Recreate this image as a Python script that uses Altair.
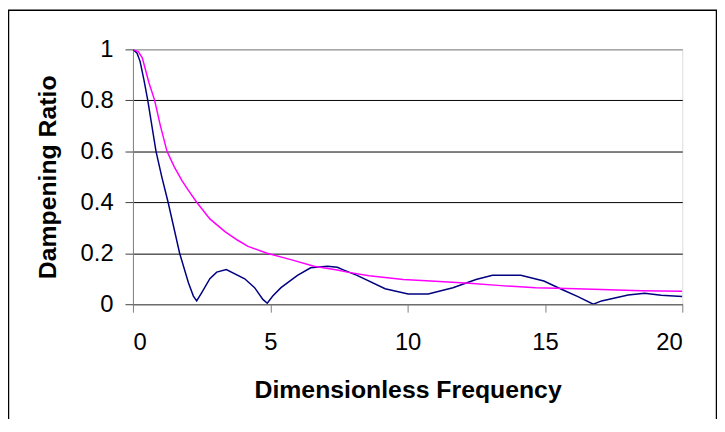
import altair as alt
import pandas as pd

# Navy series
navy_x = [0, 0.15, 0.26, 0.4, 0.54, 0.84, 1.05, 1.28, 1.70, 2.02, 2.2, 2.32, 2.5, 2.8, 3.05, 3.40,
          4.07, 4.43, 4.73, 4.89, 5.09, 5.39, 5.99, 6.47, 7.08, 7.44, 7.68, 8.16, 9.18, 10.02,
          10.75, 11.65, 12.49, 13.09, 14.12, 14.96, 15.62, 16.2, 16.76, 17.06, 18.03, 18.63,
          19.23, 20.0]
navy_y = [1.0, 0.985, 0.953, 0.88, 0.80, 0.60, 0.50, 0.40, 0.20, 0.084, 0.032, 0.013, 0.045, 0.10,
          0.126, 0.136, 0.10, 0.065, 0.019, 0.004, 0.032, 0.065, 0.113, 0.143, 0.149, 0.145,
          0.134, 0.113, 0.061, 0.040, 0.040, 0.065, 0.097, 0.114, 0.114, 0.091, 0.058, 0.03,
          0.0, 0.013, 0.036, 0.043, 0.035, 0.030]

# Magenta series
mag_x = [0, 0.2, 0.34, 0.58, 0.79, 1.0, 1.24, 1.5, 1.78, 2.0, 2.32, 2.8, 3.35, 3.8, 4.19, 4.88,
         5.75, 6.59, 7.44, 7.8, 8.6, 9.84, 11.0, 12.24, 13.4, 14.66, 15.8, 17.06, 18.5, 20.0]
mag_y = [1.0, 0.99, 0.967, 0.87, 0.80, 0.70, 0.60, 0.54, 0.486, 0.45, 0.40, 0.335, 0.285, 0.252,
         0.227, 0.20, 0.175, 0.149, 0.134, 0.126, 0.112, 0.097, 0.09, 0.082, 0.073, 0.065,
         0.062, 0.058, 0.053, 0.051]

series_names = ["A", "B"]
series_colors = ["#000080", "#FF00FF"]

x_ticks = [0, 5, 10, 15, 20]
y_ticks = [0, 0.2, 0.4, 0.6, 0.8, 1.0]

df = pd.concat([
    pd.DataFrame({"x": navy_x, "y": navy_y, "s": "A", "o": range(len(navy_x))}),
    pd.DataFrame({"x": mag_x, "y": mag_y, "s": "B", "o": range(len(mag_x))}),
])

FONT = "Liberation Sans"
W, H = 554, 257

lines = alt.Chart(df).mark_line(strokeWidth=1.5, clip=True).encode(
    x=alt.X("x:Q", scale=alt.Scale(domain=[0, 20], nice=False),
            axis=alt.Axis(values=x_ticks, title="Dimensionless Frequency", grid=False,
                          domainColor="#808080", tickColor="#808080", tickSize=8,
                          labelFontSize=24, labelPadding=19, labelColor="black",
                          titleFontSize=25, titleFontWeight="bold", titlePadding=23,
                          titleColor="black", labelFont=FONT, titleFont=FONT)),
    y=alt.Y("y:Q", scale=alt.Scale(domain=[0, 1], nice=False),
            axis=alt.Axis(values=y_ticks, format="~g", title="Dampening Ratio", grid=True,
                          gridColor=alt.condition("datum.value === 1", alt.value("#808080"), alt.value("black")),
                          gridWidth=1,
                          domainColor="#808080", tickColor="#404040", tickSize=8,
                          labelFontSize=24, labelPadding=12, labelColor="black",
                          titleFontSize=25, titleFontWeight="bold", titlePadding=20,
                          titleColor="black", labelFont=FONT, titleFont=FONT)),
    color=alt.Color("s:N", scale=alt.Scale(domain=series_names, range=series_colors), legend=None),
    order="o:Q",
)

frame = alt.Chart(pd.DataFrame({"k": [0]})).mark_rect(
    fill=None, stroke="black", strokeWidth=1.5, clip=False
).encode(
    x=alt.value(-125.5), x2=alt.value(588.5), y=alt.value(-39.5), y2=alt.value(500)
)

chart = alt.layer(frame, lines).properties(
    width=W, height=H,
    autosize=alt.AutoSizeParams(type="none"),
    padding={"left": 126, "top": 40, "right": 35, "bottom": 114},
).configure_view(stroke="#808080", strokeWidth=1).configure(background="white")

chart.save("out.html", embed_options={"renderer": "svg", "actions": False})
